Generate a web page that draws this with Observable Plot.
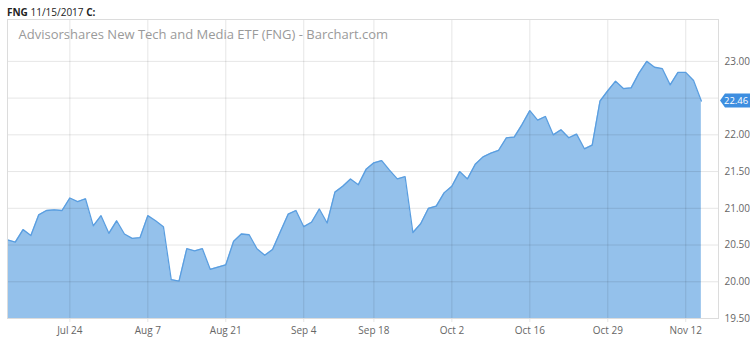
<!DOCTYPE html>
<html>
<head>
<meta charset="utf-8">
<script src="https://cdn.jsdelivr.net/npm/d3@7"></script>
<script src="https://cdn.jsdelivr.net/npm/@observablehq/plot@0.6"></script>
<style>
  html, body { margin: 0; padding: 0; background: #fff; }
  #wrap { position: relative; width: 750px; height: 339px; overflow: hidden; }
  #hdr { position: absolute; left: 7px; top: 5px; font: 10px "Open Sans", sans-serif; color: #222; }
  #hdr b { font-weight: 700; }
</style>
</head>
<body>
<div id="wrap"><div id="hdr"><b>FNG</b> 11/15/2017 <b>C:</b></div></div>
<script>
const symbol = "FNG";
const title = "Advisorshares New Tech and Media ETF (FNG) - Barchart.com";
const firstDay = "2017-07-12";
const holidays = ["2017-09-04"];
const closes = [
  20.57, 20.54, 20.71, 20.63, 20.91, 20.97, 20.98, 20.97, 21.14, 21.09,
  21.13, 20.76, 20.90, 20.66, 20.83, 20.65, 20.59, 20.60, 20.90, 20.83,
  20.75, 20.03, 20.01, 20.45, 20.42, 20.45, 20.17, 20.20, 20.23, 20.55,
  20.65, 20.64, 20.45, 20.36, 20.44, 20.68, 20.92, 20.97, 20.75, 20.81,
  20.99, 20.80, 21.22, 21.30, 21.40, 21.32, 21.53, 21.62, 21.65, 21.52,
  21.40, 21.43, 20.67, 20.79, 21.00, 21.03, 21.21, 21.30, 21.50, 21.40,
  21.60, 21.70, 21.75, 21.79, 21.96, 21.97, 22.14, 22.33, 22.20, 22.25,
  22.00, 22.07, 21.96, 22.01, 21.81, 21.86, 22.46, 22.60, 22.73, 22.63,
  22.64, 22.84, 23.00, 22.92, 22.90, 22.68, 22.85, 22.85, 22.74, 22.46
];
const tickDates = ["2017-07-24","2017-08-07","2017-08-21","2017-09-05","2017-09-18","2017-10-02","2017-10-16","2017-10-30","2017-11-13"];
const tickLabels = ["Jul 24","Aug 7","Aug 21","Sep 4","Sep 18","Oct 2","Oct 16","Oct 29","Nov 12"];
const yTicks = [19.5, 20, 20.5, 21, 21.5, 22, 22.5, 23];

// trading calendar (weekdays minus holidays)
const fmt = d3.utcFormat("%Y-%m-%d");
const days = [];
for (let d = new Date(firstDay + "T00:00:00Z"); days.length < closes.length; d = d3.utcDay.offset(d, 1)) {
  const wd = d.getUTCDay();
  const s = fmt(d);
  if (wd !== 0 && wd !== 6 && !holidays.includes(s)) days.push(s);
}
const data = closes.map((c, i) => ({i, date: days[i], close: c}));
const tickIdx = tickDates.map(t => days.indexOf(t));
const labelOf = new Map(tickIdx.map((t, k) => [t, tickLabels[k]]));
const last = data[data.length - 1];
// the last-value marker covers the nearest tick label
const labelTicks = yTicks.filter(t => Math.abs(t - last.close) > 0.15);

const chart = Plot.plot({
  width: 750, height: 339,
  marginLeft: 7, marginRight: 32, marginTop: 19, marginBottom: 21,
  style: {fontFamily: "'Open Sans', sans-serif", fontSize: "10px", color: "#555", background: "transparent"},
  x: {domain: [0, 91.2]},
  y: {domain: [19.5, 23.57]},
  marks: [
    Plot.areaY(data, {x: "i", y1: 19.5, y2: "close", fill: "#94c1eb"}),
    Plot.ruleY(yTicks, {stroke: "#000", strokeOpacity: 0.1}),
    Plot.ruleX(tickIdx, {stroke: "#000", strokeOpacity: 0.1, insetBottom: -4}),
    Plot.lineY(data, {x: "i", y: "close", stroke: "#5a9ee0", strokeWidth: 1.3}),
    Plot.frame({stroke: "#dcdcdc"}),
    Plot.axisY({anchor: "right", ticks: labelTicks, tickFormat: d => d.toFixed(2), tickSize: 0, tickPadding: 6, label: null, fill: "#666"}),
    Plot.axisX({ticks: tickIdx, tickFormat: d => labelOf.get(d), tickSize: 0, tickPadding: 8, label: null, fill: "#666"}),
    Plot.text([title], {frameAnchor: "top-left", dx: 11, dy: 10, fontSize: 13, fill: "#9a9a9a", textAnchor: "start", lineAnchor: "top"})
  ]
});

// last-value marker
const svg = d3.select(chart);
const yPos = chart.scale("y").apply(last.close);
const x0 = 750 - 32 + 2;
svg.append("path")
  .attr("d", `M${x0},${yPos} L${x0 + 5},${yPos - 7} L750,${yPos - 7} L750,${yPos + 7} L${x0 + 5},${yPos + 7} Z`)
  .attr("fill", "#3d8ee0");
svg.append("text")
  .attr("x", x0 + 4).attr("y", yPos).attr("dy", "0.35em")
  .attr("text-anchor", "start")
  .attr("fill", "#fff").attr("font-size", "9.5px")
  .attr("font-family", "'Open Sans', sans-serif")
  .text(last.close.toFixed(2));

document.getElementById("wrap").prepend(chart);
</script>
</body>
</html>
